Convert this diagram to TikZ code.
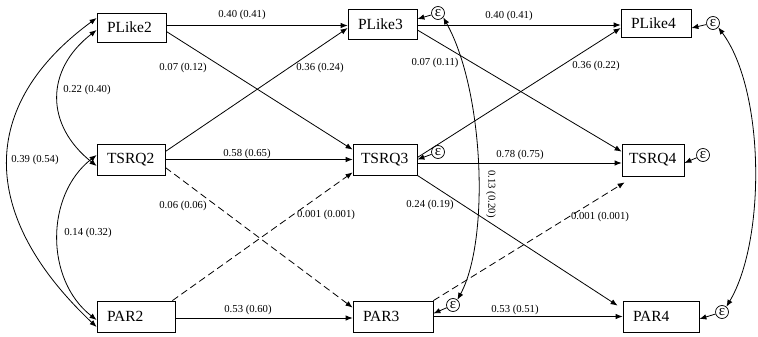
\documentclass[tikz,border=0pt]{standalone}
\usepackage{fontspec}
\setmainfont{Liberation Serif}
\usetikzlibrary{arrows.meta,calc}
\begin{document}
\begin{tikzpicture}[x=1pt,y=-1pt,
 box/.style={draw, line width=0.8pt, inner xsep=10pt, inner ysep=0pt, align=left, font=\fontsize{15.5}{16}\selectfont},
 eps/.style={draw, circle, line width=0.7pt, minimum size=13pt, inner sep=0pt, font=\fontsize{15}{15}\selectfont},
 arr/.style={line width=0.8pt, -{Latex[length=7pt,width=5.5pt]}},
 dsh/.style={dash pattern=on 7pt off 4pt},
 dbl/.style={line width=0.8pt, {Latex[length=7pt,width=5.5pt]}-{Latex[length=7pt,width=5.5pt]}},
 lbl/.style={font=\fontsize{10.7}{11}\selectfont, inner sep=0pt},
]
\useasboundingbox (0,0) rectangle (758,337);
% boxes
\node[box, text width=49pt, minimum height=29pt] (PLike2) at (131.5,27.5) {PLike2};
\node[box, text width=48pt, minimum height=31pt] (TSRQ2) at (131,159.5) {TSRQ2};
\node[box, text width=58pt, minimum height=31pt] (PAR2) at (136,316.5) {PAR2};
\node[box, text width=49pt, minimum height=30pt] (PLike3) at (382.5,24) {PLike3};
\node[box, inner xsep=8pt, text width=48pt, minimum height=31pt] (TSRQ3) at (385,159.5) {TSRQ3};
\node[box, text width=60pt, minimum height=31pt] (PAR3) at (393,316.5) {PAR3};
\node[box, text width=50pt, minimum height=28pt] (PLike4) at (656,23) {PLike4};
\node[box, inner xsep=7pt, text width=48pt, minimum height=32pt] (TSRQ4) at (653,160) {TSRQ4};
\node[box, text width=56pt, minimum height=31pt] (PAR4) at (661,316.5) {PAR4};
% error terms
\node[eps] (eP3) at (438,13) {ε};
\node[eps] (eP4) at (713,23) {ε};
\node[eps] (eT3) at (438,152) {ε};
\node[eps] (eT4) at (703,155) {ε};
\node[eps] (eA3) at (453,305) {ε};
\node[eps] (eA4) at (722,312) {ε};
\draw[arr] (eP3) -- ([yshift=5pt]PLike3.east);
\draw[arr] (eP4) -- ([yshift=-5pt]PLike4.east);
\draw[arr] (eT3) -- (TSRQ3.east);
\draw[arr] (eT4) -- ([yshift=-3pt]TSRQ4.east);
\draw[arr] (eA3) -- ([yshift=3pt]PAR3.east);
\draw[arr] (eA4) -- ([yshift=-2.5pt]PAR4.east);
% paths wave 2 -> 3
\draw[arr] ([yshift=2pt]PLike2.east) -- ([yshift=2pt]PLike2.east -| PLike3.west);
\draw[arr] ([yshift=-4pt]PLike2.east) -- ([yshift=-6pt]TSRQ3.north west);
\draw[arr] ([yshift=8pt]TSRQ2.east) -- ([yshift=-4pt]PLike3.west);
\draw[arr] (TSRQ2.east) -- (TSRQ3.west);
\draw[arr, dsh] ([yshift=-8pt]TSRQ2.east) -- ([yshift=-7pt]PAR3.north west);
\draw[arr, dsh] ([xshift=-3pt]PAR2.north east) -- ([yshift=3pt]TSRQ3.south west);
\draw[arr] ([yshift=-1.5pt]PAR2.east) -- ([yshift=-1.5pt]PAR2.east -| PAR3.west);
% paths wave 3 -> 4
\draw[arr] ([yshift=-1pt]PLike3.east) -- ([yshift=-1pt]PLike3.east -| PLike4.west);
\draw[arr] ([yshift=-6pt]PLike3.east) -- ([yshift=-8pt]TSRQ4.north west);
\draw[arr] ([yshift=2pt]TSRQ3.east) -- ([yshift=-5pt]PLike4.west);
\draw[arr] ([yshift=-3.5pt]TSRQ3.east) -- ([yshift=-3.5pt]TSRQ3.east -| TSRQ4.west);
\draw[arr] (TSRQ3.south east) -- ([shift={(-5pt,-5pt)}]PAR4.north west);
\draw[arr, dsh] (PAR3.north east) -- ([shift={(3pt,-6pt)}]TSRQ4.south west);
\draw[arr] (PAR3.east) -- (PAR4.west);
% covariances
\draw[dbl] ([yshift=9.5pt]PLike2.west) .. controls (-22,105) and (-22,215) .. ([yshift=-10.5pt]PAR2.west);
\draw[dbl] ([yshift=-2.5pt]PLike2.west) .. controls (45,70) and (45,125) .. ([yshift=-6.5pt]TSRQ2.west);
\draw[dbl] ([yshift=4.5pt]TSRQ2.west) .. controls (45,195) and (45,280) .. ([yshift=-3.5pt]PAR2.west);
\draw[dbl] (eP3.-40) .. controls (484,90) and (490,240) .. (eA3.50);
\draw[dbl] (eP4.-40) .. controls (765,90) and (766,240) .. (eA4.50);
% labels
\node[lbl] (l1) at (242,15) {0.40 (0.41)};
\node[lbl] (l2) at (183,68) {0.07 (0.12)};
\node[lbl] (l3) at (320,68) {0.36 (0.24)};
\node[lbl] (l4) at (247,154) {0.58 (0.65)};
\node[lbl] (l5) at (183,206) {0.06 (0.06)};
\node[lbl] (l6) at (326,215) {0.001 (0.001)};
\node[lbl] (l7) at (248,310) {0.53 (0.60)};
\node[lbl] (l8) at (509,16) {0.40 (0.41)};
\node[lbl] (l9) at (435,63) {0.07 (0.11)};
\node[lbl] (l10) at (596,66) {0.36 (0.22)};
\node[lbl] (l11) at (520,155) {0.78 (0.75)};
\node[lbl, rotate=-90] (l12) at (491,194) {0.13 (0.20)};
\node[lbl] (l13) at (430,205) {0.24 (0.19)};
\node[lbl] (l14) at (600,217) {0.001 (0.001)};
\node[lbl] (l15) at (515,310) {0.53 (0.51)};
\node[lbl] (l16) at (35,160) {0.39 (0.54)};
\node[lbl] (l17) at (87,90) {0.22 (0.40)};
\node[lbl] (l18) at (88,233) {0.14 (0.32)};
\end{tikzpicture}
\end{document}
